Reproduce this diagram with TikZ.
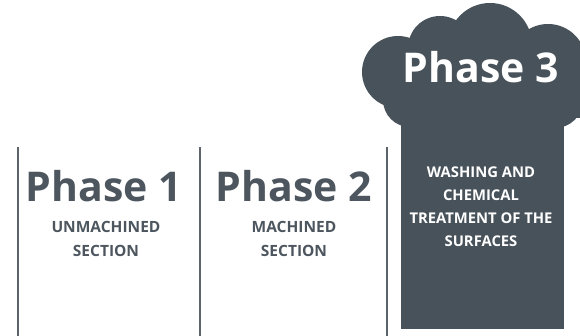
\documentclass[tikz,border=0pt]{standalone}
\usepackage{fontspec}
\setmainfont{Open Sans}
\definecolor{slate}{HTML}{48525A}
\definecolor{txtgray}{HTML}{4D565E}
\definecolor{linegray}{HTML}{5C636A}
\begin{document}
\begin{tikzpicture}[x=1pt,y=-1pt,
  big/.style={font=\fontsize{41}{41}\selectfont\bfseries, text=txtgray, inner sep=0pt},
  sub/.style={font=\fontsize{15.5}{24.5}\selectfont\bfseries, text=txtgray, align=center, inner sep=0pt},
  divider/.style={draw=linegray, line width=1.6pt}]
\useasboundingbox (0,0) rectangle (580,336);
% vertical dividers
\coordinate (l1t) at (18,147); \coordinate (l1b) at (18,336);
\coordinate (l2t) at (200,147); \coordinate (l2b) at (200,336);
\coordinate (l3t) at (387,147); \coordinate (l3b) at (387,336);
\draw[divider] (l1t) -- (l1b);
\draw[divider] (l2t) -- (l2b);
\draw[divider] (l3t) -- (l3b);
% phase 3 shape
\begin{scope}
\clip (0,0) rectangle (580,336);
\fill[slate] (401,110) rectangle (564,329);
\fill[slate] (398,72) circle (36);
\fill[slate] (440,48) circle (32);
\fill[slate] (490,45) circle (42);
\fill[slate] (548,62) circle (38);
\fill[slate] (395,62) rectangle (582,118);
\fill[slate] (410,100) circle (27);
\fill[slate] (555,100) circle (28);
\end{scope}
% texts
\node[big] (p1) at (104,186) {Phase 1};
\node[sub] (s1) at (106,239) {UNMACHINED\\SECTION};
\node[big] (p2) at (294,186) {Phase 2};
\node[sub] (s2) at (294,239) {MACHINED\\SECTION};
\node[big, text=white] (p3) at (481,67) {Phase 3};
\node[sub, text=white, font=\fontsize{14.8}{23}\selectfont\bfseries] (s3) at (481,207) {WASHING AND\\CHEMICAL\\TREATMENT OF THE\\SURFACES};
\end{tikzpicture}
\end{document}
